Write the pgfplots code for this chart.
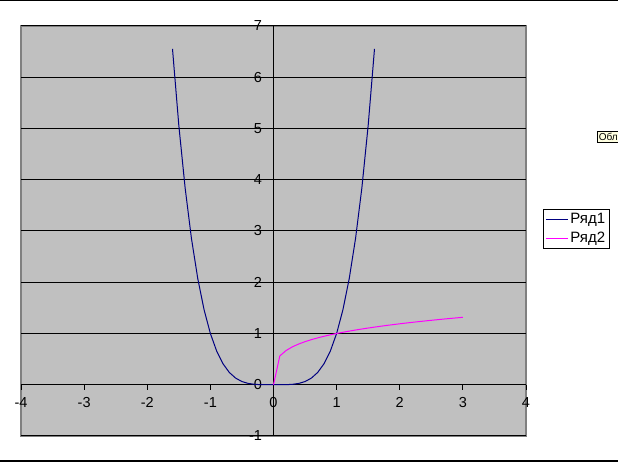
\documentclass[border=0pt]{standalone}
\usepackage{fontspec}
\setmainfont{Liberation Sans}
\usepackage{pgfplots}
\pgfplotsset{compat=1.18}
\definecolor{plotgray}{RGB}{192,192,192}
\definecolor{framegray}{RGB}{128,128,128}
\definecolor{seriesA}{RGB}{0,0,128}
\definecolor{seriesB}{RGB}{255,0,255}
\definecolor{tipyellow}{RGB}{255,255,225}
\begin{document}
\begin{tikzpicture}[x=1pt,y=1pt]
\path[use as bounding box] (0,0) rectangle (618,462);
\draw[line width=1.3pt] (0,461.3) -- (618,461.3);
\draw[line width=1.3pt] (0,1) -- (618,1);
\begin{axis}[
    at={(21pt,26pt)}, anchor=south west,
    scale only axis, width=505pt, height=410pt,
    xmin=-4, xmax=4, ymin=-1, ymax=7,
    axis lines=middle,
    axis line style={-, black, line width=1pt},
    hide obscured x ticks=false, hide obscured y ticks=false,
    axis background/.style={fill=plotgray, draw=framegray, line width=1.2pt},
    xtick={-4,-3,-2,-1,0,1,2,3,4},
    ytick={-1,0,1,2,3,4,5,6,7},
    tick align=outside, major tick length=5pt,
    tick style={black, line width=1pt},
    ymajorgrids=true,
    major grid style={black, line width=1pt},
    /pgf/number format/assume math mode=true,
    tick label style={font=\fontsize{14.5}{16}\selectfont},
    xticklabel style={anchor=center, yshift=-13pt},
    yticklabel style={anchor=east, xshift=-3pt},
    legend style={at={(axis description cs:1.0337,0.5537)}, anchor=north west,
        draw=black, fill=white, line width=0.8pt,
        font=\fontsize{15}{17}\selectfont,
        inner sep=2pt, row sep=3pt},
    legend cell align=left,
    legend image code/.code={\draw[#1, line width=1pt] (0pt,0pt) -- (22pt,0pt);},
]
\addplot[seriesA, line width=1pt] coordinates {
(-1.6,6.5536) (-1.5,5.0625) (-1.4,3.8416) (-1.3,2.8561) (-1.2,2.0736)
(-1.1,1.4641) (-1.0,1) (-0.9,0.6561) (-0.8,0.4096) (-0.7,0.2401)
(-0.6,0.1296) (-0.5,0.0625) (-0.4,0.0256) (-0.3,0.0081) (-0.2,0.0016)
(-0.1,0.0001) (0,0) (0.1,0.0001) (0.2,0.0016) (0.3,0.0081) (0.4,0.0256)
(0.5,0.0625) (0.6,0.1296) (0.7,0.2401) (0.8,0.4096) (0.9,0.6561)
(1.0,1) (1.1,1.4641) (1.2,2.0736) (1.3,2.8561) (1.4,3.8416)
(1.5,5.0625) (1.6,6.5536)};
\addlegendentry{Ряд1}
\addplot[seriesB, line width=1pt] coordinates {
(0,0) (0.1,0.5623) (0.2,0.6687) (0.3,0.7401) (0.4,0.7953) (0.5,0.8409)
(0.6,0.8801) (0.7,0.9147) (0.8,0.9457) (0.9,0.9740) (1.0,1)
(1.1,1.0241) (1.2,1.0466) (1.3,1.0678) (1.4,1.0878) (1.5,1.1067)
(1.6,1.1247) (1.7,1.1419) (1.8,1.1583) (1.9,1.1741) (2.0,1.1892)
(2.1,1.2038) (2.2,1.2179) (2.3,1.2315) (2.4,1.2447) (2.5,1.2574)
(2.6,1.2698) (2.7,1.2819) (2.8,1.2936) (2.9,1.3050) (3.0,1.3161)};
\addlegendentry{Ряд2}
\end{axis}
\node[anchor=west, draw=black, fill=tipyellow, line width=0.6pt, inner sep=1.5pt,
      minimum height=11pt, font=\fontsize{10}{11}\selectfont] at (597,325) {Обл};
\end{tikzpicture}
\end{document}
